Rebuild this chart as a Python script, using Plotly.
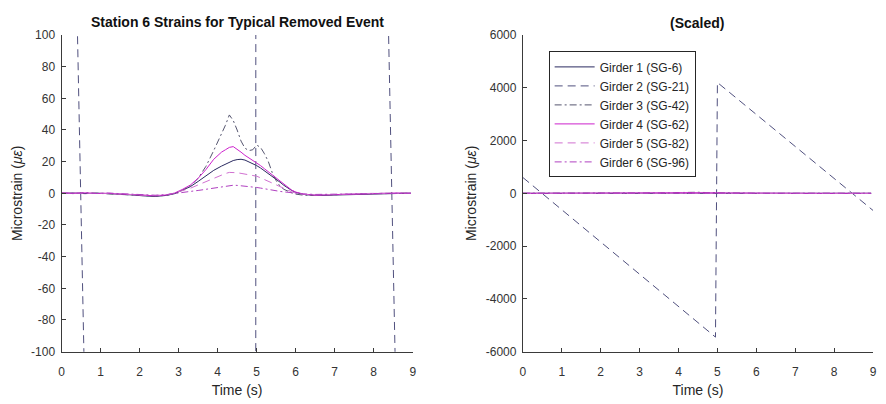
import plotly.graph_objects as go

# ---------------- data ----------------
time_s = [0.0, 0.3, 0.6, 0.9, 1.2, 1.5,
          1.8, 2.1, 2.4, 2.7, 2.9,
          3.1, 3.3, 3.5, 3.7, 3.9,
          4.1, 4.2, 4.3, 4.4, 4.5,
          4.6, 4.7, 4.8, 4.9, 5.0,
          5.1, 5.2, 5.3, 5.4, 5.5,
          5.6, 5.7, 5.8, 5.9, 6.0,
          6.2, 6.5, 6.8, 7.1, 7.4,
          7.7, 8.0, 8.3, 8.6, 8.95]

girder1 = [0.0, 0.2, -0.2, 0.1, -0.2, -0.4,
           -1.0, -1.6, -2.0, -1.3, -0.2,
           2.0, 4.2, 7.5, 11.0, 14.5,
           17.2, 18.5, 19.8, 20.7, 21.3,
           21.5, 21.0, 20.0, 18.8, 17.5,
           16.0, 14.3, 12.5, 10.8, 9.0,
           7.0, 5.0, 3.3, 1.8, 0.6,
           -0.7, -1.4, -1.2, -0.9, -0.6,
           -0.3, -0.1, 0.1, 0.0, 0.1]

girder3 = [0.3, -0.2, 0.4, 0.1, -0.3, -0.5,
           -1.0, -1.5, -1.8, -1.2, 0.0,
           2.0, 4.5, 9.5, 17.0, 27.0,
           37.0, 43.0, 49.5, 46.0, 40.0,
           33.0, 28.5, 27.0, 27.5, 30.5,
           29.0, 25.0, 20.0, 13.0, 8.0,
           4.5, 2.5, 1.2, 0.3, -0.5,
           -1.2, -1.3, -1.0, -0.8, -0.5,
           -0.3, -0.1, 0.0, -0.1, 0.1]

girder4 = [0.2, 0.0, 0.3, -0.1, 0.0, -0.3,
           -0.8, -1.3, -1.6, -1.0, 0.2,
           2.5, 5.2, 9.5, 15.0, 21.5,
           26.0, 27.5, 29.0, 29.5, 28.0,
           26.0, 24.0, 22.5, 21.0, 19.5,
           17.5, 15.5, 13.5, 11.5, 9.5,
           7.5, 5.5, 3.5, 2.0, 0.8,
           -0.5, -1.2, -1.0, -0.7, -0.5,
           -0.2, 0.1, 0.0, 0.2, 0.0]

girder5 = [0.1, 0.3, -0.1, 0.2, -0.1, -0.3,
           -0.7, -1.1, -1.4, -0.9, 0.2,
           1.5, 3.2, 5.3, 7.5, 9.5,
           11.5, 12.5, 13.2, 13.3, 13.0,
           12.6, 12.2, 11.8, 11.3, 10.8,
           9.8, 8.7, 7.5, 6.3, 5.0,
           3.8, 2.7, 1.7, 0.9, 0.2,
           -0.6, -1.0, -0.9, -0.6, -0.4,
           -0.2, 0.0, 0.1, -0.1, 0.1]

girder6 = [0.0, 0.2, 0.1, -0.1, 0.2, -0.2,
           -0.5, -0.9, -1.2, -0.8, 0.0,
           0.5, 1.2, 1.8, 2.5, 3.3,
           4.2, 4.7, 5.0, 5.1, 5.0,
           4.8, 4.5, 4.2, 4.0, 3.7,
           3.3, 2.8, 2.3, 1.9, 1.5,
           1.2, 0.9, 0.6, 0.3, 0.0,
           -0.4, -0.7, -0.6, -0.4, -0.3,
           -0.1, 0.0, 0.1, 0.0, 0.0]

# Girder 2 (SG-21) is the faulty sawtooth signal
girder2_time = [0.0, 4.95, 5.0, 9.0]
girder2 = [600, -5450, 4200, -650]

names = ["Girder 1 (SG-6)", "Girder 2 (SG-21)", "Girder 3 (SG-42)",
         "Girder 4 (SG-62)", "Girder 5 (SG-82)", "Girder 6 (SG-96)"]

x_ticks = [0, 1, 2, 3, 4, 5, 6, 7, 8, 9]
y_ticks_left = [-100, -80, -60, -40, -20, 0, 20, 40, 60, 80, 100]
y_ticks_right = [-6000, -4000, -2000, 0, 2000, 4000, 6000]

# ---------------- styles ----------------
colors = ["#2a2a60", "#50507e", "#55556f", "#cc22cc", "#d070d0", "#b040c0"]
dashes = ["solid", "8px,5px", "7px,3px,2px,3px", "solid", "8px,5px", "7px,3px,2px,3px"]

series = [
    (time_s, girder1),
    (girder2_time, girder2),
    (time_s, girder3),
    (time_s, girder4),
    (time_s, girder5),
    (time_s, girder6),
]

fig = go.Figure()
for panel, (xa, ya) in enumerate([("x", "y"), ("x2", "y2")]):
    for i, (tx, vy) in enumerate(series):
        fig.add_trace(go.Scatter(
            x=tx, y=vy, mode="lines", name=names[i],
            line=dict(color=colors[i], width=1, dash=dashes[i]),
            xaxis=xa, yaxis=ya, showlegend=(panel == 1),
        ))

FONT = "Liberation Sans, Arial, sans-serif"
W, H = 886, 404
ydom = [(H - 357) / H, (H - 29) / H]

axis_common = dict(
    showline=True, linecolor="#3a3a3a", linewidth=1, mirror=False,
    ticks="inside", ticklen=4, tickcolor="#3a3a3a",
    showgrid=False, zeroline=False,
    tickfont=dict(family=FONT, size=12, color="#333333"),
)
title_font = dict(size=14, family=FONT, color="#262626")


def labels(vals):
    return [str(v) for v in vals]


fig.update_layout(
    width=W, height=H,
    margin=dict(l=0, r=0, t=0, b=0),
    paper_bgcolor="white", plot_bgcolor="white",
    font=dict(family=FONT, size=12, color="#262626"),
    xaxis=dict(domain=[59 / W, 413 / W], range=[0, 9], tickvals=x_ticks, ticktext=labels(x_ticks),
               title=dict(text="Time (s)", font=title_font, standoff=7),
               ticklabelstandoff=9, anchor="y", **axis_common),
    yaxis=dict(domain=ydom, range=[-100, 100], tickvals=y_ticks_left, ticktext=labels(y_ticks_left),
               title=dict(text="Microstrain (<i>με</i>)", font=title_font, standoff=5),
               ticklabelstandoff=3, anchor="x", **axis_common),
    xaxis2=dict(domain=[524 / W, 877 / W], range=[0, 9], tickvals=x_ticks, ticktext=labels(x_ticks),
                title=dict(text="Time (s)", font=title_font, standoff=7),
                ticklabelstandoff=9, anchor="y2", **axis_common),
    yaxis2=dict(domain=ydom, range=[-6000, 6000], tickvals=y_ticks_right, ticktext=labels(y_ticks_right),
                title=dict(text="Microstrain (<i>με</i>)", font=title_font, standoff=5),
                ticklabelstandoff=3, anchor="x2", **axis_common),
    legend=dict(x=550 / W, y=(H - 46) / H, xanchor="left", yanchor="top",
                bgcolor="white", bordercolor="#262626", borderwidth=1,
                font=dict(family=FONT, size=12, color="#262626"),
                tracegroupgap=0, itemwidth=40),
    annotations=[
        dict(text="<b>Station 6 Strains for Typical Removed Event</b>", x=236 / W, y=(H - 16) / H,
             xref="paper", yref="paper", xanchor="center", yanchor="middle", showarrow=False,
             font=dict(family=FONT, size=14, color="#111111")),
        dict(text="<b>(Scaled)</b>", x=700 / W, y=(H - 17) / H,
             xref="paper", yref="paper", xanchor="center", yanchor="middle", showarrow=False,
             font=dict(family=FONT, size=14, color="#111111")),
    ],
)

fig.write_html("out.html")
